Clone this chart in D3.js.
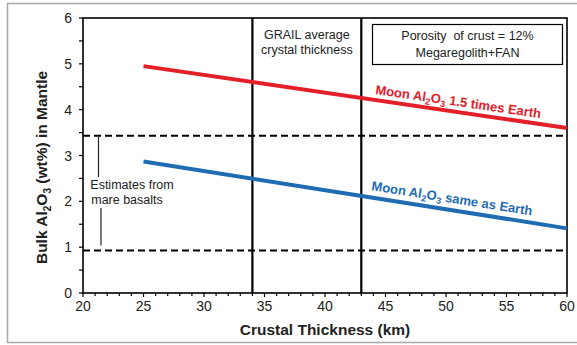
<!DOCTYPE html>
<html>
<head>
<meta charset="utf-8">
<title>Bulk Al2O3 vs crustal thickness</title>
<style>
  body { margin: 0; background: #fff; }
  svg { display: block; font-family: "Liberation Sans", Arial, sans-serif; }
</style>
</head>
<body>
<script src="https://cdn.jsdelivr.net/npm/d3@7"></script>
<script>
    var width = 577,
        height = 345;

    // data
    var thickness = [25, 60];                 // crustal thickness (km)
    var moon15 = [4.95, 3.6];                 // Moon Al2O3 1.5 times Earth
    var moonSame = [2.87, 1.41];              // Moon Al2O3 same as Earth
    var basaltRange = [0.93, 3.43];           // estimates from mare basalts
    var grailRange = [34, 43];                // GRAIL average crustal thickness
    var xTicks = [20, 25, 30, 35, 40, 45, 50, 55, 60];
    var yTicks = [0, 1, 2, 3, 4, 5, 6];

    var margin = {top: 18, right: 10, bottom: 52, left: 83};

    var x = d3.scaleLinear().domain([20, 60]).range([margin.left, width - margin.right]);
    var y = d3.scaleLinear().domain([0, 6]).range([height - margin.bottom, margin.top]);

    var svg = d3.select('body').append('svg')
            .attr('width', width)
            .attr('height', height);

    // outer grey frame of the figure panel
    svg.append('path')
            .attr('d', 'M577,3.5H7.5V342.5H577')
            .attr('fill', 'none')
            .attr('stroke', '#a8a8a8')
            .attr('stroke-width', 1.5);

    // minor ticks
    var xMinor = d3.range(20, 61, 1), yMinor = d3.range(0, 6.01, 0.5);
    svg.append('g').selectAll('line')
            .data(xMinor).enter().append('line')
            .attr('x1', function (d) { return x(d); })
            .attr('x2', function (d) { return x(d); })
            .attr('y1', y(0))
            .attr('y2', function (d) { return y(0) + (d % 5 === 0 ? 4 : 3); })
            .attr('stroke', '#000').attr('stroke-width', 1.2);
    svg.append('g').selectAll('line')
            .data(yMinor).enter().append('line')
            .attr('y1', function (d) { return y(d); })
            .attr('y2', function (d) { return y(d); })
            .attr('x1', x(20))
            .attr('x2', x(20) - 4)
            .attr('stroke', '#000').attr('stroke-width', 1.2);

    // tick labels
    svg.append('g').selectAll('text')
            .data(xTicks).enter().append('text')
            .attr('x', function (d) { return x(d); })
            .attr('y', y(0) + 18)
            .attr('text-anchor', 'middle')
            .attr('font-size', 14).attr('fill', '#222')
            .text(function (d) { return d; });
    svg.append('g').selectAll('text')
            .data(yTicks).enter().append('text')
            .attr('x', x(20) - 11)
            .attr('y', function (d) { return y(d) + 5; })
            .attr('text-anchor', 'end')
            .attr('font-size', 14).attr('fill', '#222')
            .text(function (d) { return d; });

    // plot frame
    svg.append('rect')
            .attr('x', x(20)).attr('y', y(6))
            .attr('width', x(60) - x(20)).attr('height', y(0) - y(6))
            .attr('fill', 'none').attr('stroke', '#000').attr('stroke-width', 1.6);

    // dashed mare basalt bounds
    svg.append('g').selectAll('line')
            .data(basaltRange).enter().append('line')
            .attr('x1', x(20)).attr('x2', x(60))
            .attr('y1', function (d) { return y(d); })
            .attr('y2', function (d) { return y(d); })
            .attr('stroke', '#000').attr('stroke-width', 2)
            .attr('stroke-dasharray', '7,4');

    // GRAIL verticals
    svg.append('g').selectAll('line')
            .data(grailRange).enter().append('line')
            .attr('x1', function (d) { return x(d); })
            .attr('x2', function (d) { return x(d); })
            .attr('y1', y(0)).attr('y2', y(6))
            .attr('stroke', '#000').attr('stroke-width', 2.2);

    // model lines
    var line = d3.line()
            .x(function (d) { return x(d[0]); })
            .y(function (d) { return y(d[1]); });
    var series = [
        {vals: moon15, color: '#e3202a'},
        {vals: moonSame, color: '#1f6cb3'}
    ];
    svg.append('g').selectAll('path')
            .data(series).enter().append('path')
            .attr('d', function (s) { return line(d3.zip(thickness, s.vals)); })
            .attr('fill', 'none')
            .attr('stroke', function (s) { return s.color; })
            .attr('stroke-width', 4);

    // line labels, rotated along each line
    function angle(vals) {
        return Math.atan2(y(vals[1]) - y(vals[0]), x(thickness[1]) - x(thickness[0])) * 180 / Math.PI;
    }
    function addLabel(px, py, vals, color, parts) {
        var t = svg.append('text')
                .attr('transform', 'translate(' + px + ',' + py + ') rotate(' + angle(vals) + ')')
                .attr('font-size', 13).attr('font-weight', 'bold').attr('fill', color);
        parts.forEach(function (p) {
            var ts = t.append('tspan').text(p[0]);
            if (p[1] === 'sub') ts.attr('font-size', 9).attr('dy', 3);
            if (p[1] === 'up') ts.attr('dy', -3);
        });
    }
    addLabel(375, 94, moon15, '#e3202a',
            [['Moon Al'], ['2', 'sub'], ['O', 'up'], ['3', 'sub'], [' 1.5 times Earth', 'up']]);
    addLabel(371, 190, moonSame, '#1f6cb3',
            [['Moon Al'], ['2', 'sub'], ['O', 'up'], ['3', 'sub'], [' same as Earth', 'up']]);

    // GRAIL annotation
    var gx = (x(grailRange[0]) + x(grailRange[1])) / 2;
    svg.append('g').selectAll('text')
            .data(['GRAIL average', 'crystal thickness']).enter().append('text')
            .attr('x', gx)
            .attr('y', function (d, i) { return 39 + i * 15; })
            .attr('text-anchor', 'middle')
            .attr('font-size', 12.5).attr('fill', '#222')
            .text(function (d) { return d; });

    // porosity box
    svg.append('rect')
            .attr('x', 372.5).attr('y', 24.5).attr('width', 190).attr('height', 40)
            .attr('fill', '#fff').attr('stroke', '#000').attr('stroke-width', 1.2);
    svg.append('g').selectAll('text')
            .data(['Porosity  of crust = 12%', 'Megaregolith+FAN']).enter().append('text')
            .attr('x', 467.5)
            .attr('y', function (d, i) { return 40 + i * 17; })
            .attr('text-anchor', 'middle')
            .attr('font-size', 12.5).attr('fill', '#222')
            .style('white-space', 'pre')
            .text(function (d) { return d; });

    // mare basalt annotation
    svg.append('line')
            .attr('x1', 98.5).attr('x2', 98.5).attr('y1', y(basaltRange[1]) + 1).attr('y2', 177)
            .attr('stroke', '#222').attr('stroke-width', 1.2);
    svg.append('line')
            .attr('x1', 101).attr('x2', 101).attr('y1', 208).attr('y2', y(basaltRange[0]) - 5)
            .attr('stroke', '#222').attr('stroke-width', 1.2);
    svg.append('g').selectAll('text')
            .data(['Estimates from', 'mare basalts']).enter().append('text')
            .attr('x', function (d, i) { return i ? 127 : 132; })
            .attr('y', function (d, i) { return 189 + i * 15; })
            .attr('text-anchor', 'middle')
            .attr('font-size', 12.5).attr('fill', '#222')
            .text(function (d) { return d; });

    // axis titles
    svg.append('text')
            .attr('x', x(40)).attr('y', 335)
            .attr('text-anchor', 'middle')
            .attr('font-size', 15.5).attr('font-weight', 'bold').attr('fill', '#222')
            .text('Crustal Thickness (km)');

    var yt = svg.append('text')
            .attr('transform', 'translate(47,' + (y(3) + 12) + ') rotate(-90)')
            .attr('text-anchor', 'middle')
            .attr('font-size', 15.5).attr('font-weight', 'bold').attr('fill', '#222');
    yt.append('tspan').text('Bulk Al');
    yt.append('tspan').text('2').attr('font-size', 10).attr('dy', 4);
    yt.append('tspan').text('O').attr('dy', -4);
    yt.append('tspan').text('3').attr('font-size', 10).attr('dy', 4);
    yt.append('tspan').text(' (wt%) in Mantle').attr('dy', -4);
</script>
</body>
</html>
